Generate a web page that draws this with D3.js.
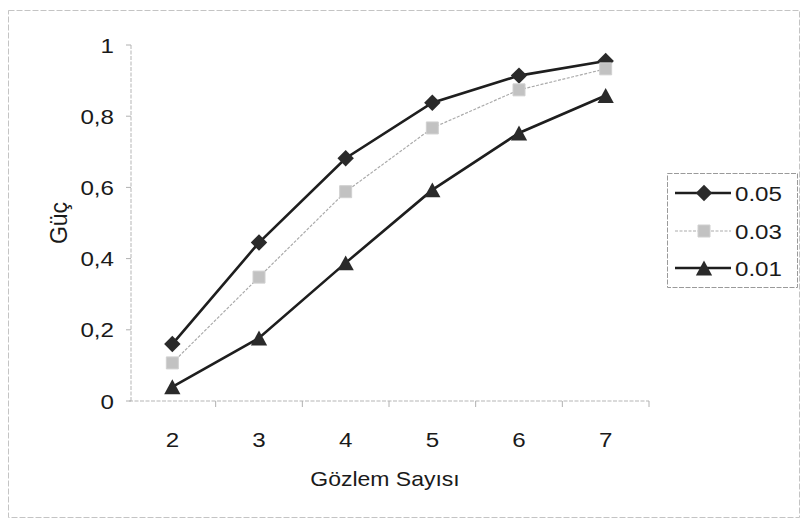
<!DOCTYPE html>
<html>
<head>
<meta charset="utf-8">
<script src="https://cdn.jsdelivr.net/npm/d3@7/dist/d3.min.js"></script>
<style>
  html, body { margin: 0; padding: 0; background: #fff; }
  svg { display: block; font-family: "Liberation Sans", Arial, sans-serif; }
</style>
</head>
<body>
<svg id="chart" width="804" height="528"></svg>
<script>
// Observation counts on the x axis
const categories = [2, 3, 4, 5, 6, 7];
// Power at each significance level
const power005 = [0.160, 0.445, 0.682, 0.838, 0.914, 0.955];
const power003 = [0.107, 0.348, 0.588, 0.767, 0.874, 0.933];
const power001 = [0.040, 0.177, 0.388, 0.593, 0.753, 0.858];
const seriesNames = ["0.05", "0.03", "0.01"];
const yTicks = [0, 0.2, 0.4, 0.6, 0.8, 1];
const yTickLabels = ["0", "0,2", "0,4", "0,6", "0,8", "1"];

// a rotated square reads as the classic diamond marker
const diamond = { draw(ctx, size) { const r = Math.sqrt(size) / 2 * Math.SQRT2; ctx.moveTo(0, -r); ctx.lineTo(r, 0); ctx.lineTo(0, r); ctx.lineTo(-r, 0); ctx.closePath(); } };
const triangle = { draw(ctx, size) { const w = Math.sqrt(size) * 1.35, h = w * 0.92; ctx.moveTo(0, -h / 2); ctx.lineTo(w / 2, h / 2); ctx.lineTo(-w / 2, h / 2); ctx.closePath(); } };

const series = [
  { name: seriesNames[0], values: power005, symbol: diamond, size: 135, color: "#2a2a2a", line: "#1e1e1e", width: 2.6, dash: null },
  { name: seriesNames[1], values: power003, symbol: d3.symbolSquare, size: 144, color: "#c2c2c2", line: "#ababab", width: 1.2, dash: "3,1.5" },
  { name: seriesNames[2], values: power001, symbol: triangle, size: 145, color: "#2a2a2a", line: "#1e1e1e", width: 2.6, dash: null }
];

const svg = d3.select("#chart");
const STRETCH = 1.15;

// text drawn slightly wide, like the printed chart lettering
function label(parent, x, y, txt, size, anchor) {
  return parent.append("text")
    .attr("transform", `translate(${x},${y}) scale(${STRETCH},1)`)
    .attr("text-anchor", anchor || "start")
    .attr("font-size", size).attr("fill", "#1a1a1a")
    .text(txt);
}

// faint outer chart border
svg.append("rect")
  .attr("x", 8.5).attr("y", 10.5).attr("width", 791).attr("height", 507)
  .attr("fill", "none").attr("stroke", "#c4c4c4").attr("stroke-width", 1)
  .attr("stroke-dasharray", "6,2");

const x = d3.scaleBand().domain(categories).range([129, 649]);
const y = d3.scaleLinear().domain([0, 1]).range([401, 45]);
const cx = d => x(d) + x.bandwidth() / 2;

// x axis
const xAxis = svg.append("g").attr("transform", "translate(0,401)");
xAxis.append("line").attr("x1", 129).attr("x2", 649)
  .attr("stroke", "#b5b5b5").attr("stroke-width", 1).attr("stroke-dasharray", "4,1.5");
xAxis.selectAll("line.tick").data(categories.slice(1))
  .join("line").attr("class", "tick")
  .attr("x1", d => x(d)).attr("x2", d => x(d))
  .attr("y1", 0).attr("y2", 6).attr("stroke", "#b0b0b0");
xAxis.append("line").attr("x1", 649).attr("x2", 649).attr("y1", 0).attr("y2", 6).attr("stroke", "#b0b0b0");
categories.forEach(d => label(xAxis, cx(d), 46, d, 21, "middle"));

// y axis
const yAxis = svg.append("g").attr("transform", "translate(131,0)");
yAxis.append("line").attr("y1", 45).attr("y2", 401)
  .attr("stroke", "#b5b5b5").attr("stroke-width", 1).attr("stroke-dasharray", "4,1.5");
yAxis.selectAll("line.tick").data(yTicks).join("line").attr("class", "tick")
  .attr("x1", -5).attr("x2", 0)
  .attr("y1", d => y(d)).attr("y2", d => y(d)).attr("stroke", "#b0b0b0");
yTicks.forEach((d, i) => label(yAxis, -17, y(d) + 7.5, yTickLabels[i], 21, "end"));

// axis titles
label(svg, 385, 486, "Gözlem Sayısı", 20, "middle");
svg.append("text").attr("transform", "translate(67,223) rotate(-90)")
  .attr("text-anchor", "middle").attr("font-size", 23).attr("fill", "#1a1a1a")
  .text("Güç");

const lineGen = d3.line().x((d, i) => cx(categories[i])).y(d => y(d));

// series lines
[1, 2, 0].forEach(k => {
  const s = series[k];
  svg.append("path").datum(s.values)
    .attr("d", lineGen).attr("fill", "none")
    .attr("stroke", s.line).attr("stroke-width", s.width)
    .attr("stroke-dasharray", s.dash);
});
// markers
[0, 2, 1].forEach(k => {
  const s = series[k];
  svg.append("g").selectAll("path").data(s.values).join("path")
    .attr("d", d3.symbol().type(s.symbol).size(s.size))
    .attr("transform", (d, i) => `translate(${cx(categories[i])},${y(d)})`)
    .attr("fill", s.color)
    .attr("stroke", s.symbol === d3.symbolSquare ? "#d0d0d0" : "none");
});

// legend
const legend = svg.append("g");
legend.append("rect").attr("x", 667.5).attr("y", 173.5).attr("width", 130).attr("height", 114)
  .attr("fill", "#fff").attr("stroke", "#9a9a9a").attr("stroke-width", 1).attr("stroke-dasharray", "5,1.5");
const legendY = [193, 231, 268];
series.forEach((s, i) => {
  const g = legend.append("g").attr("transform", `translate(0,${legendY[i]})`);
  g.append("line").attr("x1", 675).attr("x2", 731)
    .attr("stroke", s.line).attr("stroke-width", s.width).attr("stroke-dasharray", s.dash);
  g.append("path").attr("d", d3.symbol().type(s.symbol).size(s.size))
    .attr("transform", "translate(704,0)").attr("fill", s.color)
    .attr("stroke", s.symbol === d3.symbolSquare ? "#d0d0d0" : "none");
  label(g, 735, 8, s.name, 21, "start");
});
</script>
</body>
</html>
